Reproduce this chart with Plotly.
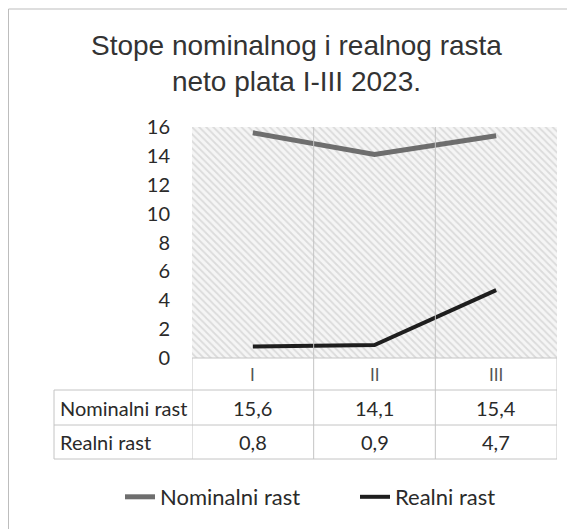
import plotly.graph_objects as go

categories = ["I", "II", "III"]
nominal = [15.6, 14.1, 15.4]
real = [0.8, 0.9, 4.7]
series_names = ["Nominalni rast", "Realni rast"]
y_ticks = [0, 2, 4, 6, 8, 10, 12, 14, 16]
title_text = "Stope nominalnog i realnog rasta<br>neto plata I-III 2023."

# page body has an 8px margin, so the figure is drawn 8px in from the top-left
OFF = 8
W, H = 575 - OFF, 529 - OFF
L, R, T, B = 192 - OFF, 18, 127 - OFF, 529 - 358
ph = H - T - B
pw = W - L - R
xr = [-0.5, len(categories) - 0.5]
yr = [0, 16]


def py(page_pix):
    return (H - B - (page_pix - OFF)) / ph


def px(page_pix):
    return (page_pix - OFF - L) / pw


fig = go.Figure()

# hatched plot background
fig.add_trace(go.Scatter(
    x=[xr[0], xr[1], xr[1], xr[0], xr[0]], y=[yr[0], yr[0], yr[1], yr[1], yr[0]],
    mode="none", fill="toself", fillcolor="white",
    fillpattern=dict(shape="\\", fgcolor="#c2c2c2", bgcolor="#f5f5f5", size=5, solidity=0.35),
    showlegend=False, hoverinfo="skip"))

xs = list(range(len(categories)))
fig.add_trace(go.Scatter(x=xs, y=nominal, mode="lines", name=series_names[0],
                         line=dict(color="#6e6e6e", width=5)))
fig.add_trace(go.Scatter(x=xs, y=real, mode="lines", name=series_names[1],
                         line=dict(color="#1e1e1e", width=4)))

shapes = []
grid = "#c4c4c4"
rows = [py(358), py(390), py(425), py(459)]
left_tab = px(54)
# horizontal table lines
shapes.append(dict(type="line", xref="paper", yref="paper", x0=0, x1=1, y0=rows[0], y1=rows[0],
                   line=dict(color=grid, width=1)))
for yv in rows[1:]:
    shapes.append(dict(type="line", xref="paper", yref="paper", x0=left_tab, x1=1, y0=yv, y1=yv,
                       line=dict(color=grid, width=1)))
# vertical table lines
shapes.append(dict(type="line", xref="paper", yref="paper", x0=left_tab, x1=left_tab, y0=rows[1], y1=rows[3],
                   line=dict(color=grid, width=1)))
for i in range(len(categories) + 1):
    xv = i - 0.5
    top = 1 if 0 < i < len(categories) else rows[0]
    shapes.append(dict(type="line", xref="x", yref="paper", x0=xv, x1=xv, y0=rows[3], y1=top,
                       line=dict(color=grid, width=1)))
# outer frame (left and top edges visible)
shapes.append(dict(type="line", xref="paper", yref="paper", x0=px(8.5), x1=px(8.5), y0=py(540), y1=py(9),
                   line=dict(color="#bdbdbd", width=1)))
shapes.append(dict(type="line", xref="paper", yref="paper", x0=px(8.5), x1=px(600), y0=py(9), y1=py(9),
                   line=dict(color="#bdbdbd", width=1)))

annotations = []
tfont = dict(family="Lato, sans-serif", size=20, color="#2a2a2a")
for name, vals, r in [(series_names[0], nominal, 1), (series_names[1], real, 2)]:
    yc = (rows[r] + rows[r + 1]) / 2
    annotations.append(dict(text=name, xref="paper", yref="paper", x=px(58), y=yc,
                            xanchor="left", yanchor="middle", showarrow=False, font=tfont))
    for i, v in enumerate(vals):
        annotations.append(dict(text=f"{v}".replace(".", ","), xref="x", yref="paper", x=i, y=yc,
                                xanchor="center", yanchor="middle", showarrow=False, font=tfont))
yc0 = (rows[0] + rows[1]) / 2
for i, c in enumerate(categories):
    annotations.append(dict(text=c, xref="x", yref="paper", x=i, y=yc0, xanchor="center", yanchor="middle",
                            showarrow=False, font=dict(family="Lato, sans-serif", size=17, color="#555")))
# title
annotations.append(dict(text=title_text, xref="paper", yref="paper", x=px(296), y=py(63),
                        xanchor="center", yanchor="middle", showarrow=False,
                        font=dict(family="Liberation Sans, Arial, sans-serif", size=28, color="#333")))

fig.update_layout(
    width=W, height=H,
    margin=dict(l=L, r=R, t=T, b=B, autoexpand=False),
    paper_bgcolor="white", plot_bgcolor="white",
    xaxis=dict(range=xr, showticklabels=False, showgrid=False, zeroline=False, fixedrange=True),
    yaxis=dict(range=yr, tickvals=y_ticks, showgrid=True, gridcolor="#d6d6d6", gridwidth=1,
               zeroline=False, tickfont=dict(family="Lato, sans-serif", size=20, color="#2a2a2a"),
               ticklabelstandoff=21),
    legend=dict(orientation="h", x=px(120), xanchor="left", y=py(497), yanchor="middle",
                font=dict(family="Lato, sans-serif", size=22, color="#2a2a2a"),
                entrywidth=190, entrywidthmode="pixels", bgcolor="rgba(0,0,0,0)"),
    shapes=shapes, annotations=annotations, showlegend=True,
)

fig.write_html("out.html")
